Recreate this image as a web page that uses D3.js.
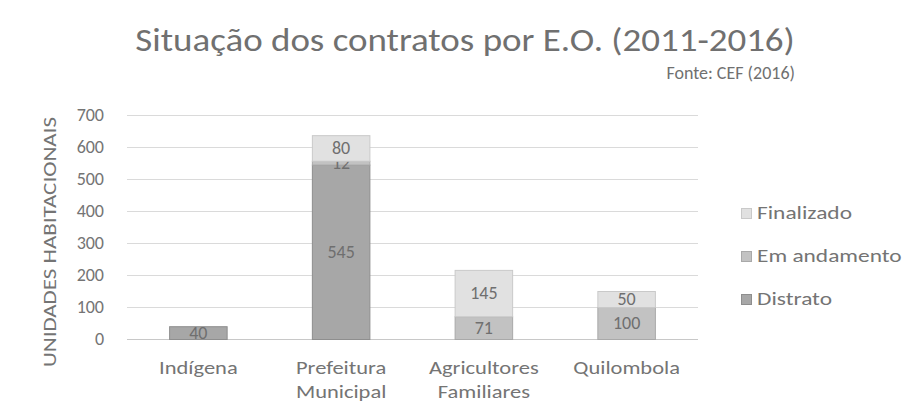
<!DOCTYPE html>
<html>
<head>
<meta charset="utf-8">
<script src="https://cdn.jsdelivr.net/npm/d3@7"></script>
<style>
body { margin: 0; background: #fff; }
text { font-family: Carlito, Calibri, Lato, sans-serif; }
</style>
</head>
<body>
<svg id="chart"></svg>
<script>
// dados
var categorias = ["Indígena", "Prefeitura Municipal", "Agricultores Familiares", "Quilombola"];
var distrato = [40, 545, 0, 0];
var emAndamento = [0, 12, 71, 100];
var finalizado = [0, 80, 145, 50];
var series = ["Distrato", "Em andamento", "Finalizado"];
var yTicks = [0, 100, 200, 300, 400, 500, 600, 700];

var screen = {width: 902, height: 403};
var margin = {top: 115, left: 127, right: 204, bottom: 64};
var stretch = 1.25; // o texto do original e mais largo

var svg = d3.select("#chart")
    .attr("width", screen.width)
    .attr("height", screen.height);

var fill = {"Distrato": "#a7a7a7", "Em andamento": "#c2c2c2", "Finalizado": "#e1e1e1"};
var stroke = {"Distrato": "#8e8e8e", "Em andamento": "#a9a9a9", "Finalizado": "#c9c9c9"};

var rows = categorias.map(function(c, i) {
    return {cat: c, "Distrato": distrato[i], "Em andamento": emAndamento[i], "Finalizado": finalizado[i]};
});
var stack = d3.stack().keys(series)(rows);

var xscale = d3.scaleBand()
    .domain(categorias)
    .range([margin.left, screen.width - margin.right])
    .paddingInner(0.59)
    .paddingOuter(0.295);

var yscale = d3.scaleLinear()
    .domain([0, 700])
    .range([339, margin.top]);

// grade
svg.append("g").selectAll("line")
    .data(yTicks)
    .enter()
    .append("line")
    .attr("x1", margin.left)
    .attr("x2", screen.width - margin.right)
    .attr("y1", function(d) { return yscale(d) + 0.5; })
    .attr("y2", function(d) { return yscale(d) + 0.5; })
    .attr("stroke", function(d) { return d == 0 ? "#c8c8c8" : "#dadada"; })
    .attr("stroke-width", 1.2);

// eixo y
var yAxis = svg.append("g")
    .attr("transform", "translate(" + (margin.left - 23) + ",0)")
    .call(d3.axisLeft(yscale).tickValues(yTicks).tickSize(0).tickPadding(0));
yAxis.select(".domain").remove();
yAxis.selectAll("text")
    .attr("fill", "#747474")
    .style("font-size", "18px");

svg.append("text")
    .attr("transform", "translate(56,242) rotate(-90) scale(1.28,1)")
    .attr("text-anchor", "middle")
    .attr("fill", "#747474")
    .style("font-size", "18px")
    .text("UNIDADES HABITACIONAIS");

// barras
var groups = svg.append("g").selectAll("g")
    .data(stack)
    .enter()
    .append("g");

groups.selectAll("rect")
    .data(function(s) { return s.map(function(d) { return {key: s.key, d: d}; }); })
    .enter()
    .filter(function(p) { return p.d[1] - p.d[0] > 0; })
    .append("rect")
    .attr("x", function(p) { return xscale(p.d.data.cat) + 0.5; })
    .attr("width", xscale.bandwidth() - 1)
    .attr("y", function(p) { return yscale(p.d[1]) + 0.5; })
    .attr("height", function(p) { return yscale(p.d[0]) - yscale(p.d[1]); })
    .attr("fill", function(p) { return fill[p.key]; })
    .attr("stroke", function(p) { return stroke[p.key]; });

// rotulos de dados
groups.selectAll("text")
    .data(function(s) { return s.map(function(d) { return {key: s.key, d: d}; }); })
    .enter()
    .filter(function(p) { return p.d[1] - p.d[0] > 0; })
    .append("text")
    .attr("x", function(p) { return xscale(p.d.data.cat) + xscale.bandwidth() / 2; })
    .attr("y", function(p) { return (yscale(p.d[0]) + yscale(p.d[1])) / 2; })
    .attr("dy", "0.35em")
    .attr("text-anchor", "middle")
    .attr("fill", "#6f6f6f")
    .style("font-size", "18px")
    .text(function(p) { return p.d[1] - p.d[0]; });

// eixo x
var xAxis = svg.append("g")
    .attr("transform", "translate(0,347)")
    .call(d3.axisBottom(xscale).tickSize(0).tickPadding(0));
xAxis.select(".domain").remove();
xAxis.selectAll("text").remove();
xAxis.selectAll(".tick").each(function(c) {
    var words = c.split(" ");
    var t = d3.select(this).append("text")
        .attr("transform", "scale(" + stretch + ",1)")
        .attr("text-anchor", "middle")
        .attr("fill", "#747474")
        .style("font-size", "18px");
    words.forEach(function(w, i) {
        t.append("tspan").attr("x", 0).attr("y", 27 + i * 24).text(w);
    });
});

// legenda
var legend = svg.append("g").selectAll("g")
    .data(series.slice().reverse())
    .enter()
    .append("g")
    .attr("transform", function(d, i) { return "translate(741," + (208 + i * 43) + ")"; });
legend.append("rect")
    .attr("width", 10).attr("height", 10)
    .attr("x", 0.5).attr("y", 0.5)
    .attr("fill", function(d) { return fill[d]; })
    .attr("stroke", function(d) { return stroke[d]; });
legend.append("text")
    .attr("transform", "translate(16,5) scale(1.3,1)")
    .attr("dy", "0.35em")
    .attr("fill", "#747474")
    .style("font-size", "18px")
    .text(function(d) { return d; });

// titulo
svg.append("text")
    .attr("transform", "translate(465,51) scale(1.155,1)")
    .attr("text-anchor", "middle")
    .attr("fill", "#707070")
    .style("font-size", "32px")
    .style("font-weight", "300")
    .text("Situação dos contratos por E.O. (2011-2016)");
svg.append("text")
    .attr("x", 795).attr("y", 79)
    .attr("text-anchor", "end")
    .attr("fill", "#707070")
    .style("font-size", "18px")
    .text("Fonte: CEF (2016)");
</script>
</body>
</html>
